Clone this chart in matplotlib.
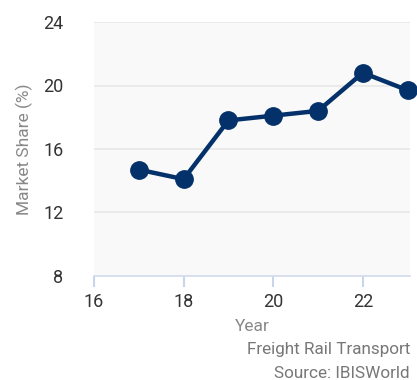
import matplotlib
matplotlib.use("Agg")
import matplotlib.pyplot as plt

plt.rcParams['font.family'] = ['Roboto', 'DejaVu Sans']

years = [17, 18, 19, 20, 21, 22, 23]
market_share = [14.7, 14.1, 17.8, 18.1, 18.4, 20.8, 19.7]
x_ticks = [16, 18, 20, 22]
y_ticks = [8, 12, 16, 20, 24]

fig = plt.figure(figsize=(4.17, 3.80), dpi=100)
ax = fig.add_axes([0.2254, 0.2737, 0.7576, 0.6684])
ax.set_facecolor('#f9f9f9')

ax.plot(years, market_share, color='#04316a', linewidth=3.2, marker='o',
        markersize=12.5, zorder=3, clip_on=False)

ax.set_xlim(16, 23.05)
ax.set_ylim(8, 24)
ax.set_xticks(x_ticks)
ax.set_yticks(y_ticks)

ax.yaxis.grid(True, color='#e8e8e8', linewidth=1.2)
ax.set_axisbelow(True)
for side in ['top', 'right', 'left']:
    ax.spines[side].set_visible(False)
ax.spines['bottom'].set_color('#d3dcec')
ax.spines['bottom'].set_linewidth(1.2)

ax.tick_params(axis='x', length=8, width=1.5, color='#c8d5ec',
               labelsize=13, labelcolor='#333333', pad=4)
ax.tick_params(axis='y', length=0, labelsize=13, labelcolor='#333333', pad=22)

ax.set_xlabel('Year', fontsize=12.5, color='#888888', labelpad=6)
ax.set_ylabel('Market Share (%)', fontsize=12.5, color='#888888', labelpad=7)

fig.text(0.983, 0.079, 'Freight Rail Transport', ha='right', va='center',
         fontsize=12.3, color='#777777')
fig.text(0.983, 0.018, 'Source: IBISWorld', ha='right', va='center',
         fontsize=12.3, color='#777777')

fig.savefig('out.png', dpi=100)
